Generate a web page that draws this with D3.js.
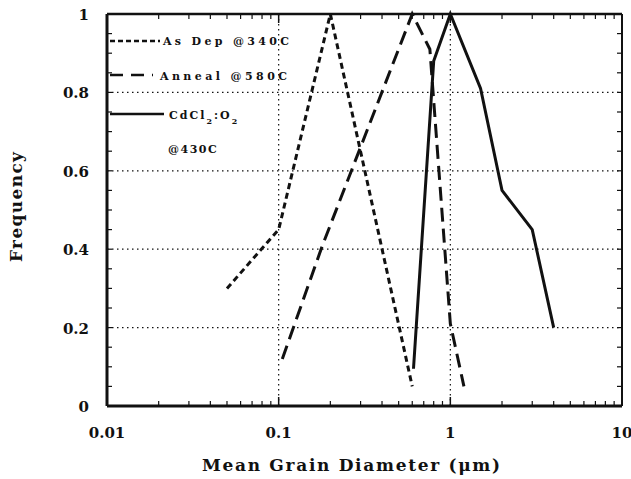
<!DOCTYPE html>
<html><head><meta charset="utf-8">
<script src="https://cdn.jsdelivr.net/npm/d3@7"></script>
<style>body{margin:0;background:#fff}svg{display:block}text{font-family:"DejaVu Serif","Liberation Serif",serif;font-weight:bold;fill:#111}</style>
</head><body>
<svg id="c" width="631" height="479"></svg>
<script>
const xTicks = [0.01, 0.1, 1, 10];
const xTickLabels = ["0.01", "0.1", "1", "10"];
const yTicks = [0, 0.2, 0.4, 0.6, 0.8, 1];
const yTickLabels = ["0", "0.2", "0.4", "0.6", "0.8", "1"];
const seriesNames = ["As Dep @340C", "Anneal @580C", "CdCl2:O2 @430C"];
const asDepX = [0.05, 0.1, 0.2, 0.6];
const asDepY = [0.30, 0.45, 1.0, 0.05];
const annealX = [0.105, 0.18, 0.6, 0.76, 1.0, 1.2];
const annealY = [0.12, 0.41, 1.0, 0.91, 0.21, 0.05];
const cdclX = [0.61, 0.8, 1.0, 1.5, 2.0, 3.0, 4.0];
const cdclY = [0.095, 0.88, 1.0, 0.81, 0.55, 0.45, 0.2];

const svg = d3.select("#c");
const L = 107, R = 622, T = 14, B = 406;
const x = d3.scaleLog().domain([0.01, 10]).range([L, R]);
const y = d3.scaleLinear().domain([0, 1]).range([B, T]);
const ink = "#111";

// grid
const g = svg.append("g");
[0.2, 0.4, 0.6, 0.8].forEach(v => g.append("line").attr("x1", L).attr("x2", R).attr("y1", y(v)).attr("y2", y(v))
  .attr("stroke", ink).attr("stroke-width", 1.2).attr("stroke-dasharray", "1.5,3.5"));
[0.1, 1].forEach(v => g.append("line").attr("y1", T).attr("y2", B).attr("x1", x(v)).attr("x2", x(v))
  .attr("stroke", ink).attr("stroke-width", 1.2).attr("stroke-dasharray", "1.5,3.5"));

// minor ticks
const minorX = [];
for (let d = 0.01; d < 10; d *= 10) for (let k = 2; k <= 9; k++) minorX.push(d * k);
const yMinor = d3.range(0, 1.0001, 0.05);
minorX.forEach(v => {
  g.append("line").attr("x1", x(v)).attr("x2", x(v)).attr("y1", B).attr("y2", B - 5).attr("stroke", ink).attr("stroke-width", 1.2);
  g.append("line").attr("x1", x(v)).attr("x2", x(v)).attr("y1", T).attr("y2", T + 5).attr("stroke", ink).attr("stroke-width", 1.2);
});
xTicks.forEach(v => {
  g.append("line").attr("x1", x(v)).attr("x2", x(v)).attr("y1", B).attr("y2", B - 9).attr("stroke", ink).attr("stroke-width", 1.5);
  g.append("line").attr("x1", x(v)).attr("x2", x(v)).attr("y1", T).attr("y2", T + 9).attr("stroke", ink).attr("stroke-width", 1.5);
});
yMinor.forEach(v => {
  g.append("line").attr("x1", L).attr("x2", L + 5).attr("y1", y(v)).attr("y2", y(v)).attr("stroke", ink).attr("stroke-width", 1.2);
  g.append("line").attr("x1", R).attr("x2", R - 5).attr("y1", y(v)).attr("y2", y(v)).attr("stroke", ink).attr("stroke-width", 1.2);
});

// frame
svg.append("line").attr("x1", L).attr("x2", R).attr("y1", T).attr("y2", T).attr("stroke", ink).attr("stroke-width", 2.5);
svg.append("line").attr("x1", R).attr("x2", R).attr("y1", T).attr("y2", B).attr("stroke", ink).attr("stroke-width", 2);
svg.append("line").attr("x1", L).attr("x2", R).attr("y1", B).attr("y2", B).attr("stroke", ink).attr("stroke-width", 3);
svg.append("line").attr("x1", L).attr("x2", L).attr("y1", T).attr("y2", B).attr("stroke", ink).attr("stroke-width", 3);

// tick labels
xTicks.forEach((v, i) => svg.append("text").attr("x", x(v)).attr("y", 438).attr("text-anchor", "middle")
  .attr("font-size", 15).text(xTickLabels[i]));
yTicks.forEach((v, i) => svg.append("text").attr("x", 89).attr("y", y(v) + 6).attr("text-anchor", "end")
  .attr("font-size", 15).text(yTickLabels[i]));

// axis titles
svg.append("text").attr("x", 202).attr("y", 471).attr("font-size", 17).attr("textLength", 298)
  .attr("lengthAdjust", "spacing").text("Mean Grain Diameter (μm)");
svg.append("text").attr("transform", "translate(22,207) rotate(-90)").attr("text-anchor", "middle")
  .attr("font-size", 17).attr("textLength", 110).attr("lengthAdjust", "spacing").text("Frequency");

// series
const line = d3.line().x(d => x(d[0])).y(d => y(d[1]));
const series = [
  {xs: asDepX, ys: asDepY, dash: "6,4"},
  {xs: annealX, ys: annealY, dash: "14,7"},
  {xs: cdclX, ys: cdclY, dash: null}
];
series.forEach(s => {
  svg.append("path").datum(s.xs.map((v, i) => [v, s.ys[i]])).attr("d", line)
    .attr("fill", "none").attr("stroke", ink).attr("stroke-width", 3)
    .attr("stroke-dasharray", s.dash).attr("stroke-linejoin", "miter");
});

// legend
const lg = svg.append("g");
lg.append("line").attr("x1", 110).attr("x2", 160).attr("y1", 41).attr("y2", 41).attr("stroke", ink).attr("stroke-width", 2.5).attr("stroke-dasharray", "5,3");
lg.append("text").attr("x", 163).attr("y", 45).attr("font-size", 11).attr("textLength", 126).attr("lengthAdjust", "spacing").text(seriesNames[0]);
lg.append("line").attr("x1", 110).attr("x2", 153).attr("y1", 75).attr("y2", 75).attr("stroke", ink).attr("stroke-width", 2.5).attr("stroke-dasharray", "13,8");
lg.append("text").attr("x", 160).attr("y", 80).attr("font-size", 11).attr("textLength", 127).attr("lengthAdjust", "spacing").text(seriesNames[1]);
lg.append("line").attr("x1", 110).attr("x2", 164).attr("y1", 114).attr("y2", 114).attr("stroke", ink).attr("stroke-width", 2.5);
const t3 = lg.append("text").attr("x", 169).attr("y", 119).attr("font-size", 11).attr("letter-spacing", 2);
t3.append("tspan").text("CdCl");
t3.append("tspan").attr("dy", 5).attr("font-size", 8).text("2");
t3.append("tspan").attr("dy", -5).text(":O");
t3.append("tspan").attr("dy", 5).attr("font-size", 8).text("2");
lg.append("text").attr("x", 168).attr("y", 153).attr("font-size", 11).attr("letter-spacing", 1.5).text("@430C");
</script>
</body></html>
